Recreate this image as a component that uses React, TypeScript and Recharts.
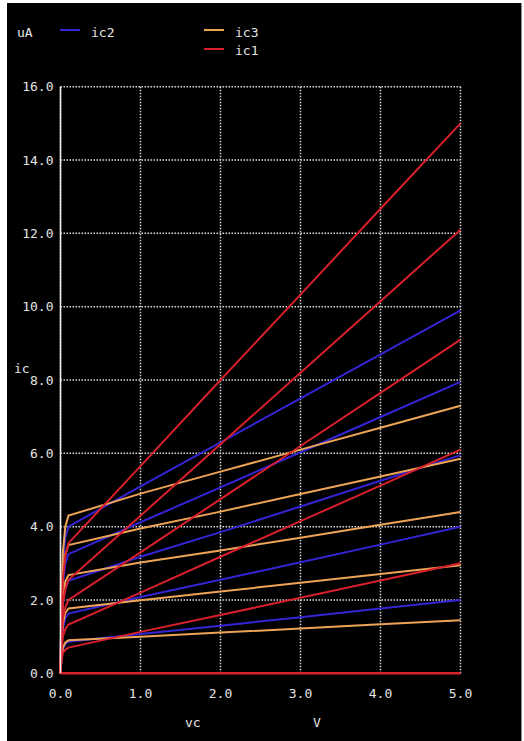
import { LineChart, Line, XAxis, YAxis, CartesianGrid } from "recharts";

// collector voltage samples (V)
const vc = [0, 0.01, 0.03, 0.06, 0.1, 1, 2, 3, 4, 5];

// ic1 family (uA), red
const ic1_0 = [0, 0, 0, 0, 0, 0, 0, 0, 0, 0];
const ic1_1 = [0, 0.3, 0.55, 0.64, 0.7, 1.13, 1.59, 2.06, 2.53, 3.0];
const ic1_2 = [0, 0.55, 1.0, 1.2, 1.33, 2.2, 3.18, 4.15, 5.12, 6.1];
const ic1_3 = [0, 0.8, 1.5, 1.8, 2.0, 3.3, 4.75, 6.2, 7.65, 9.1];
const ic1_4 = [0, 1.0, 1.9, 2.3, 2.55, 4.3, 6.25, 8.2, 10.15, 12.1];
const ic1_5 = [0, 1.4, 2.6, 3.2, 3.55, 5.65, 8.0, 10.33, 12.67, 15.0];

// ic2 family (uA), blue
const ic2_1 = [0, 0.35, 0.65, 0.8, 0.86, 1.07, 1.3, 1.53, 1.77, 2.0];
const ic2_2 = [0, 0.65, 1.2, 1.5, 1.63, 2.08, 2.55, 3.03, 3.51, 4.0];
const ic2_3 = [0, 1.0, 1.9, 2.3, 2.52, 3.18, 3.85, 4.55, 5.25, 5.95];
const ic2_4 = [0, 1.3, 2.4, 3.0, 3.25, 4.12, 5.07, 6.03, 6.99, 7.95];
const ic2_5 = [0, 1.6, 3.0, 3.7, 4.0, 5.1, 6.3, 7.5, 8.7, 9.9];

// ic3 family (uA), orange
const ic3_1 = [0, 0.35, 0.7, 0.84, 0.9, 1.0, 1.11, 1.22, 1.34, 1.45];
const ic3_2 = [0, 0.7, 1.35, 1.65, 1.77, 1.99, 2.23, 2.47, 2.71, 2.95];
const ic3_3 = [0, 1.1, 2.0, 2.5, 2.68, 3.02, 3.35, 3.7, 4.05, 4.4];
const ic3_4 = [0, 1.4, 2.7, 3.25, 3.5, 3.95, 4.41, 4.89, 5.37, 5.85];
const ic3_5 = [0, 1.7, 3.3, 4.0, 4.3, 4.9, 5.5, 6.1, 6.7, 7.3];

const xTicks = [0, 1, 2, 3, 4, 5];
const yTicks = [0, 2, 4, 6, 8, 10, 12, 14, 16];

const RED = "#d8202c";
const BLUE = "#3424d4";
const ORANGE = "#eea456";

const series = {
  b1: ic2_1, b2: ic2_2, b3: ic2_3, b4: ic2_4, b5: ic2_5,
  o1: ic3_1, o2: ic3_2, o3: ic3_3, o4: ic3_4, o5: ic3_5,
  r0: ic1_0, r1: ic1_1, r2: ic1_2, r3: ic1_3, r4: ic1_4, r5: ic1_5,
};

const data = vc.map((v, i) => {
  const row: any = { vc: v };
  Object.entries(series).forEach(([k, arr]) => (row[k] = arr[i]));
  return row;
});

const FONT = "'DejaVu Sans Mono', monospace";
const txt = { position: "absolute" as const, color: "#e4e4e4", fontFamily: FONT, fontSize: 13, lineHeight: "13px" };

export default function App() {
  const keys = Object.keys(series);
  return (
    <div style={{ position: "absolute", left: 7, top: 3, width: 514, height: 738, background: "#000", borderRight: "1px solid #888" }}>
      <LineChart width={514} height={738} data={data} margin={{ top: 83.7, right: 60.5, bottom: 37.7, left: 0 }}>
        <CartesianGrid stroke="#d8d8d8" strokeWidth={1.5} strokeDasharray="1.5 1.5" />
        <XAxis
          dataKey="vc"
          type="number"
          domain={[0, 5]}
          ticks={xTicks}
          tickFormatter={(v) => v.toFixed(1)}
          tick={{ fill: "#e4e4e4", fontSize: 13, fontFamily: FONT }}
          tickLine={false}
          tickSize={0}
          tickMargin={15}
          axisLine={false}
          height={30}
        />
        <YAxis
          type="number"
          domain={[0, 16]}
          ticks={yTicks}
          tickFormatter={(v) => v.toFixed(1)}
          tick={{ fill: "#e4e4e4", fontSize: 13, fontFamily: FONT }}
          tickLine={false}
          tickSize={0}
          tickMargin={7}
          axisLine={{ stroke: "#f0f0f0", strokeWidth: 1.5 }}
          width={53.5}
        />
        {keys.map((k) => (
          <Line
            key={k}
            dataKey={k}
            type="linear"
            dot={false}
            stroke={k[0] === "r" ? RED : k[0] === "b" ? BLUE : ORANGE}
            strokeWidth={k === "r0" ? 2.5 : 2}
            isAnimationActive={false}
          />
        ))}
      </LineChart>

      <div style={{ ...txt, left: 10, top: 23 }}>uA</div>
      <div style={{ position: "absolute", left: 53, top: 26, width: 20, height: 2, background: BLUE }} />
      <div style={{ ...txt, left: 84, top: 23 }}>ic2</div>
      <div style={{ position: "absolute", left: 197, top: 26, width: 20, height: 2, background: ORANGE }} />
      <div style={{ ...txt, left: 228, top: 23 }}>ic3</div>
      <div style={{ position: "absolute", left: 197, top: 45, width: 20, height: 2, background: RED }} />
      <div style={{ ...txt, left: 228, top: 41 }}>ic1</div>

      <div style={{ ...txt, left: 7, top: 359 }}>ic</div>
      <div style={{ ...txt, left: 178, top: 713 }}>vc</div>
      <div style={{ ...txt, left: 306, top: 713 }}>V</div>
    </div>
  );
}
